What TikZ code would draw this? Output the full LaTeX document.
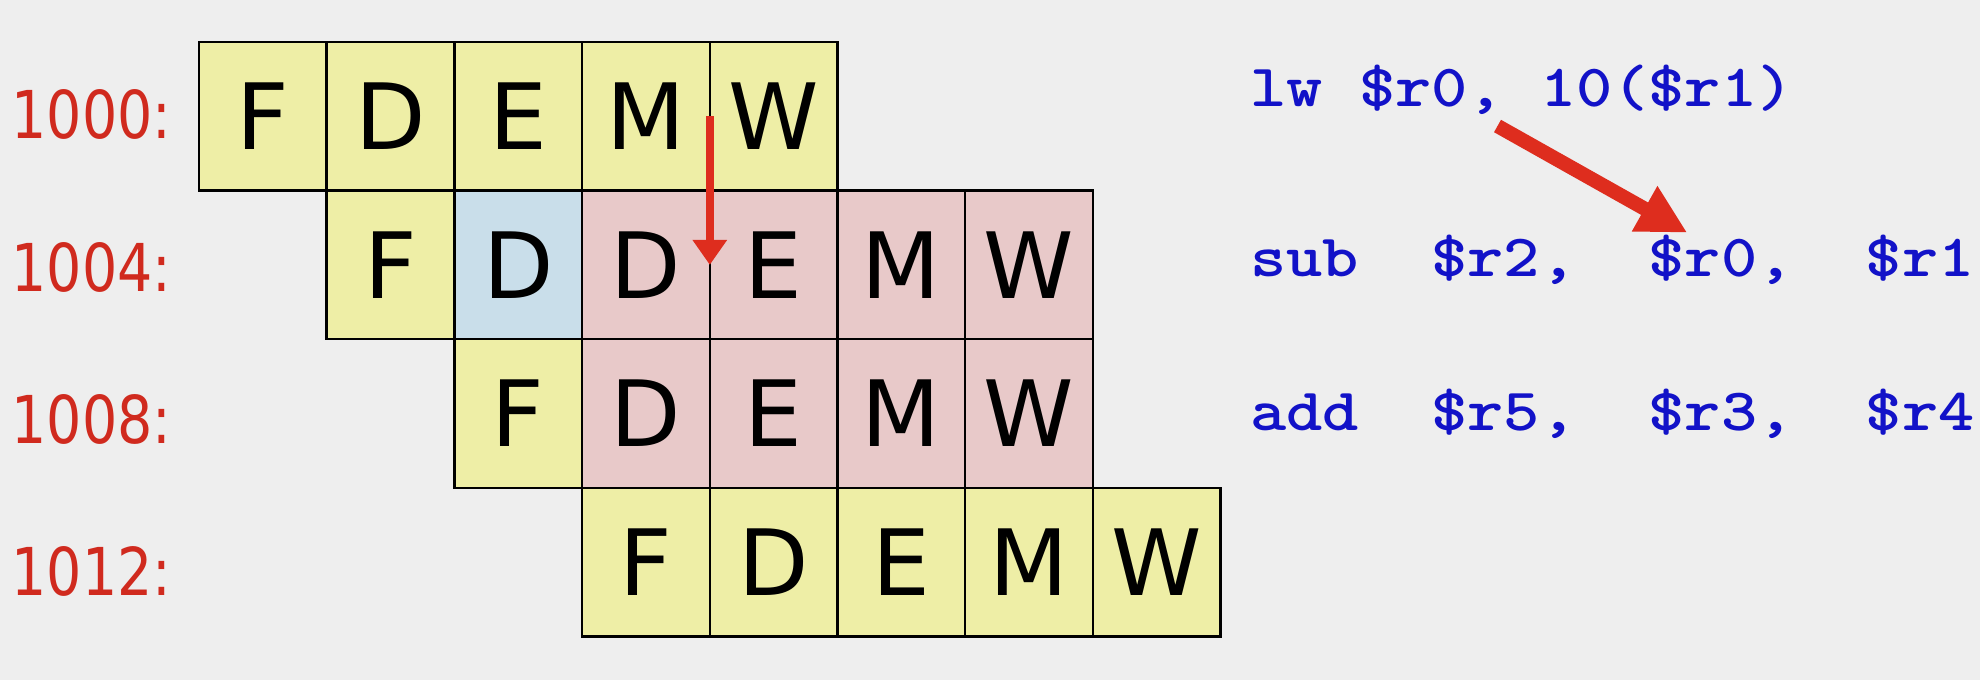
\documentclass[tikz,border=0pt]{standalone}
\usepackage{fontspec}
\newfontfamily\cellfont{DejaVu Sans}
\usetikzlibrary{arrows.meta}
\definecolor{bg}{RGB}{238,238,238}
\definecolor{ylw}{RGB}{238,238,166}
\definecolor{pnk}{RGB}{232,201,201}
\definecolor{blu}{RGB}{201,222,234}
\definecolor{labred}{RGB}{208,42,30}
\definecolor{codeblue}{RGB}{18,18,200}
\definecolor{arrred}{RGB}{222,45,30}
\begin{document}
\begin{tikzpicture}[x=0.4pt,y=-0.4pt,
  cell/.style={draw=black, line width=1pt, minimum width=51.08pt, minimum height=59.44pt,
    inner sep=0pt, outer sep=0pt, text=black, font=\cellfont\fontsize{36.6}{40}\selectfont},
  lbl/.style={anchor=base east, inner sep=0pt, text=labred, font=\cellfont\fontsize{26.4}{30}\selectfont},
  codeline/.style={anchor=base west, inner sep=0pt, text=codeblue, font=\ttfamily\bfseries\fontsize{24}{28}\selectfont},
  thinarrow/.style={draw=arrred, line width=3.2pt, -{Triangle[length=10pt,width=13.2pt]}},
  thickarrow/.style={draw=arrred, line width=5.7pt, -{Triangle[length=19.6pt,width=19.4pt]}}
]
\fill[bg] (0,0) rectangle (1980,680);
\useasboundingbox (0,0) rectangle (1980,680);

% row 1000
\foreach \c/\t/\f in {0/F/ylw,1/D/ylw,2/E/ylw,3/M/ylw,4/W/ylw}
  \node[cell, fill=\f] (a\c) at ({262.85+127.7*\c},116.3) {\t};
% row 1004
\foreach \c/\t/\f in {1/F/ylw,2/D/blu,3/D/pnk,4/E/pnk,5/M/pnk,6/W/pnk}
  \node[cell, fill=\f] (b\c) at ({262.85+127.7*\c},264.9) {\t};
% row 1008
\foreach \c/\t/\f in {2/F/ylw,3/D/pnk,4/E/pnk,5/M/pnk,6/W/pnk}
  \node[cell, fill=\f] (c\c) at ({262.85+127.7*\c},413.5) {\t};
% row 1012
\foreach \c/\t/\f in {3/F/ylw,4/D/ylw,5/E/ylw,6/M/ylw,7/W/ylw}
  \node[cell, fill=\f] (d\c) at ({262.85+127.7*\c},562.1) {\t};

% address labels
\node[lbl] (l1) at (172,138) {\scalebox{0.84}[1]{1000:}};
\node[lbl] (l2) at (172,291) {\scalebox{0.84}[1]{1004:}};
\node[lbl] (l3) at (172,443) {\scalebox{0.84}[1]{1008:}};
\node[lbl] (l4) at (172,595) {\scalebox{0.84}[1]{1012:}};

% code
\node[codeline] (s1) at (1250,106.7) {\scalebox{1.149}[1]{lw~\$r0,~10(\$r1)}};
\node[codeline] (s2) at (1250,276.7) {\scalebox{1.149}[1]{sub~~\$r2,~~\$r0,~~\$r1}};
\node[codeline] (s3) at (1250,430) {\scalebox{1.149}[1]{add~~\$r5,~~\$r3,~~\$r4}};

% arrows
\draw[thinarrow] (a4.west) -- (b4.west);
\coordinate (t0) at (1497.5,126);
\coordinate (t1) at (1687.3,232.7);
\draw[thickarrow] (t0) -- (t1);
\end{tikzpicture}
\end{document}
